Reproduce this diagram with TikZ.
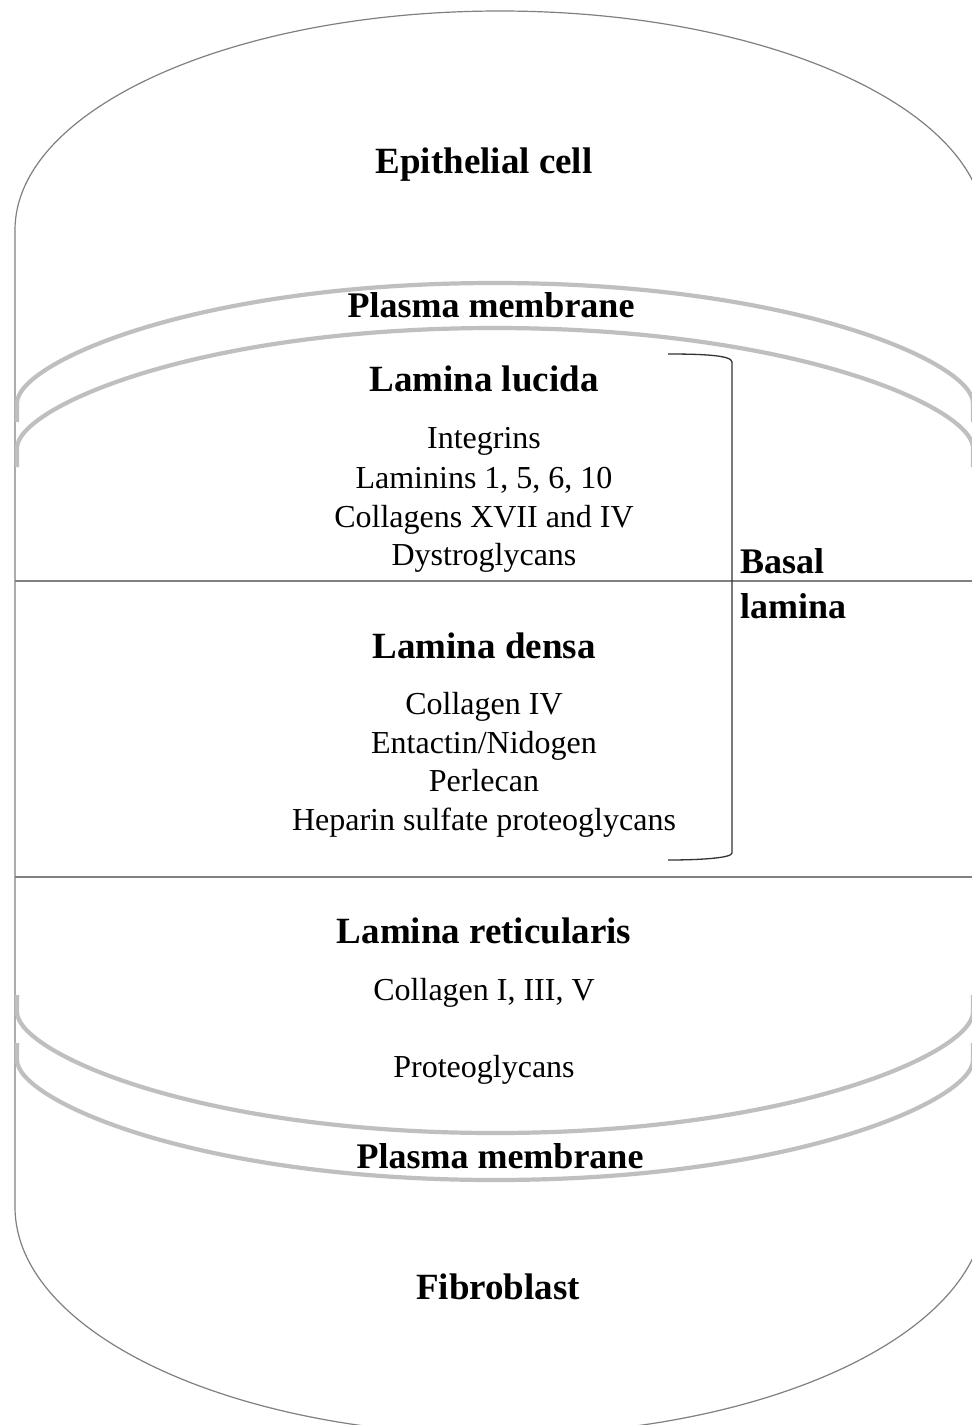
\documentclass[tikz,border=0pt]{standalone}
\usepackage{fontspec}
\setmainfont{Liberation Serif}
\begin{document}
\begin{tikzpicture}[x=1pt,y=-1pt,
  outline/.style={draw=black!50, line width=1.2pt},
  divider/.style={draw=black!50, line width=1.3pt},
  membrane/.style={draw=black!25, line width=4.2pt},
  bracketline/.style={draw=black!80, line width=1.3pt},
  title/.style={font=\fontsize{37}{40}\selectfont\bfseries, anchor=base, inner sep=0pt},
  pmtitle/.style={font=\fontsize{36}{40}\selectfont\bfseries, anchor=base, inner sep=0pt},
  item/.style={font=\fontsize{32}{36}\selectfont, anchor=base, inner sep=0pt},
  side/.style={font=\fontsize{36}{40}\selectfont\bfseries, anchor=base west, inner sep=0pt}]
\useasboundingbox (0,0) rectangle (972,1425);
\clip (0,0) rectangle (972,1425);
\fill[white] (0,0) rectangle (972,1425);
% outer cell outline
\draw[outline] (15,1207) -- (15,230)
  arc[start angle=180, end angle=360, x radius=485, y radius=219]
  -- (985,1207)
  arc[start angle=0, end angle=180, x radius=485, y radius=228] -- cycle;
% dividers
\draw[divider] (15,581) -- (985,581);
\draw[divider] (15,877) -- (985,877);
% top plasma membrane
\draw[membrane] (17,422) -- (17,403) .. controls (17,363) and (195,283) .. (495,283)
  .. controls (795,283) and (973,363) .. (973,403) -- (973,422);
\draw[membrane] (17,467) -- (17,448) .. controls (17,408) and (195,328) .. (495,328)
  .. controls (795,328) and (973,408) .. (973,448) -- (973,467);
% bottom plasma membrane
\draw[membrane] (17,995) -- (17,1012) .. controls (17,1052) and (195,1133) .. (495,1133)
  .. controls (795,1133) and (973,1052) .. (973,1012) -- (973,995);
\draw[membrane] (17,1043) -- (17,1060) .. controls (17,1100) and (195,1180) .. (495,1180)
  .. controls (795,1180) and (973,1100) .. (973,1060) -- (973,1043);
% bracket
\draw[bracketline] (668,354) .. controls (700,354) and (732,355) .. (732,362) -- (732,853)
  .. controls (732,858) and (700,860) .. (668,860);
% texts
\node[title] (epi) at (484,173) {Epithelial cell};
\node[pmtitle] (pm1) at (491,317) {Plasma membrane};
\node[title] (ll) at (484,391) {Lamina lucida};
\node[item] (i1) at (484,448) {Integrins};
\node[item] (i2) at (484,488) {Laminins 1, 5, 6, 10};
\node[item] (i3) at (484,527) {Collagens XVII and IV};
\node[item] (i4) at (484,565) {Dystroglycans};
\node[title] (ld) at (484,658) {Lamina densa};
\node[item] (d1) at (484,714) {Collagen IV};
\node[item] (d2) at (484,753) {Entactin/Nidogen};
\node[item] (d3) at (484,791) {Perlecan};
\node[item] (d4) at (484,830) {Heparin sulfate proteoglycans};
\node[title] (lr) at (484,943) {Lamina reticularis};
\node[item] (r1) at (484,1000) {Collagen I, III, V};
\node[item] (r2) at (484,1077) {Proteoglycans};
\node[pmtitle] (pm2) at (500,1168) {Plasma membrane};
\node[title] (fib) at (498,1299) {Fibroblast};
\node[side] (bl1) at (740,573) {Basal};
\node[side] (bl2) at (740,618) {lamina};
\end{tikzpicture}
\end{document}
